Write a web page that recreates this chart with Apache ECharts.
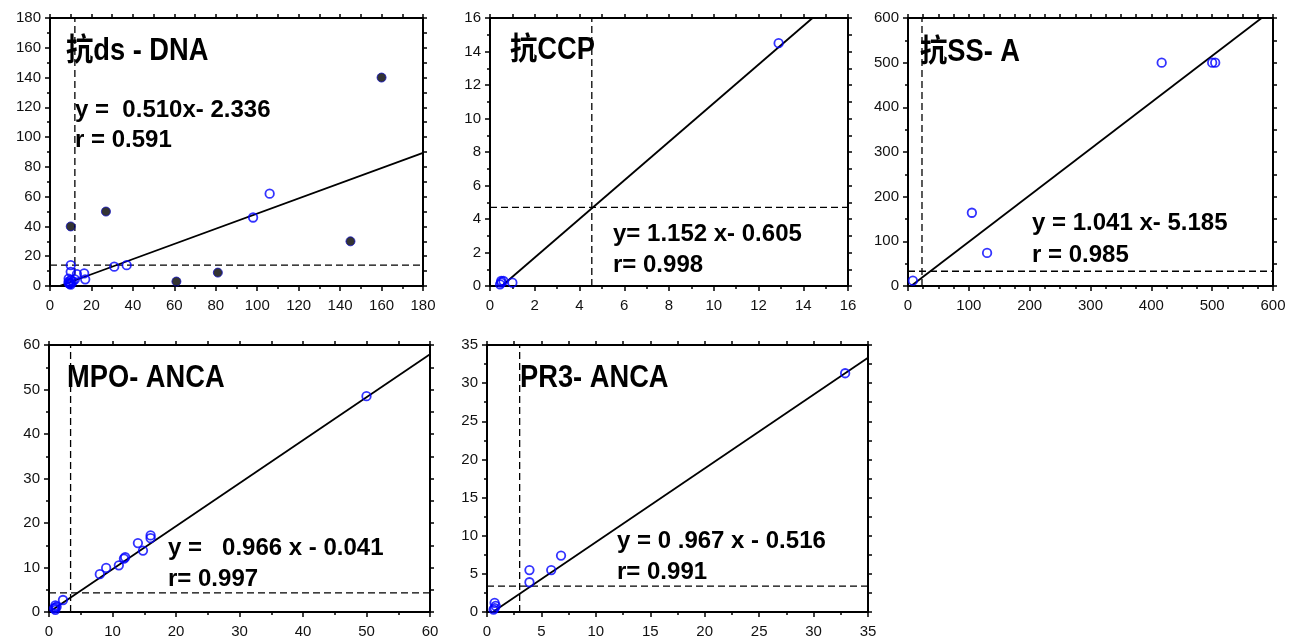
<!DOCTYPE html>
<html>
<head>
<meta charset="utf-8">
<script src="https://cdn.jsdelivr.net/npm/echarts@6/dist/echarts.min.js"></script>
<style>
html,body{margin:0;padding:0;background:#fff;}
#chart{width:1293px;height:641px;}
</style>
</head>
<body>
<div id="chart"></div>
<script>
// ---- data ----
const panelNames = ["抗ds - DNA", "抗CCP", "抗SS- A", "MPO- ANCA", "PR3- ANCA"];
const eqLine1 = ["y =  0.510x- 2.336", "y= 1.152 x- 0.605", "y = 1.041 x- 5.185", "y =   0.966 x - 0.041", "y = 0 .967 x - 0.516"];
const eqLine2 = ["r = 0.591", "r= 0.998", "r = 0.985", "r= 0.997", "r= 0.991"];
const slopes = [0.510, 1.152, 1.041, 0.966, 0.967];
const intercepts = [-2.336, -0.605, -5.185, -0.041, -0.516];
const cutX = [12, 4.55, 23, 3.4, 3.0];
const cutY = [14, 4.7, 33, 4.3, 3.4];
const axisMax = [180, 16, 600, 60, 35];
const axisStep = [20, 2, 100, 10, 5];

const dsOpenX = [10, 10, 13, 16.5, 17, 12, 31, 37, 98, 106, 9, 9, 10, 10, 11, 9, 10, 9.5];
const dsOpenY = [14, 9.5, 8, 8.5, 4.5, 4.5, 13, 14, 46, 62, 2, 3, 2, 4, 3, 5, 1, 1.5];
const dsDarkX = [10, 27, 61, 81, 145, 160];
const dsDarkY = [40, 50, 3, 9, 30, 140];
const ccpX = [0.5, 0.5, 0.6, 0.45, 1.0, 12.9];
const ccpY = [0.3, 0.2, 0.3, 0.1, 0.2, 14.5];
const ssaX = [8, 105, 130, 417, 500, 505];
const ssaY = [12, 164, 74, 500, 500, 500];
const mpoX = [1, 1, 0.8, 1.2, 1, 2.2, 8, 9, 11, 11.8, 12, 14, 14.8, 16, 16, 50];
const mpoY = [1.5, 1, 0.8, 1.2, 0.5, 2.7, 8.5, 9.9, 10.5, 12, 12.3, 15.5, 13.8, 17.2, 16.6, 48.5];
const pr3X = [0.7, 0.7, 0.8, 0.6, 3.9, 3.9, 5.9, 6.8, 32.9];
const pr3Y = [1.2, 0.5, 0.8, 0.3, 5.5, 3.9, 5.5, 7.4, 31.3];

const openX = [dsOpenX, ccpX, ssaX, mpoX, pr3X];
const openY = [dsOpenY, ccpY, ssaY, mpoY, pr3Y];

// ---- layout ----
const grids = [
  {left: 50, top: 18, width: 373, height: 268},
  {left: 490, top: 18, width: 358, height: 268},
  {left: 908, top: 18, width: 365, height: 268},
  {left: 49, top: 345, width: 381, height: 267},
  {left: 487, top: 345, width: 381, height: 267}
];
const xSplit = [2, 2, 4, 2, 2];
const ySplit = [2, 2, 2, 2, 2];
const titlePos = [[66, 51], [510, 50], [920, 52], [67, 378], [520, 378]];
const eqPos = [[75, 110, 140], [613, 234, 265], [1032, 223, 255], [168, 548, 579], [617, 541, 572]];

const pairs = (xs, ys) => xs.map((x, i) => [x, ys[i]]);

const xAxes = [], yAxes = [], series = [], graphics = [];
const lineAx = {show: true, lineStyle: {color: '#000', width: 2}, onZero: false};
const labelStyle = {color: '#111', fontSize: 15, fontFamily: 'Liberation Sans, Arial, sans-serif'};

grids.forEach((g, i) => {
  const mx = axisMax[i], st = axisStep[i];
  xAxes.push({gridIndex: i, type: 'value', min: 0, max: mx, interval: st, position: 'bottom',
    axisLine: lineAx, axisTick: {show: true, length: 5, lineStyle: {color: '#000', width: 1.5}},
    minorTick: {show: true, splitNumber: xSplit[i], length: 3, lineStyle: {color: '#000', width: 1.5}},
    axisLabel: Object.assign({margin: 12, showMaxLabel: true, showMinLabel: true}, labelStyle),
    splitLine: {show: false}, minorSplitLine: {show: false}});
  xAxes.push({gridIndex: i, type: 'value', min: 0, max: mx, interval: st / xSplit[i], position: 'top',
    axisLine: lineAx, axisTick: {show: true, length: 4, lineStyle: {color: '#000', width: 1.5}},
    axisLabel: {show: false}, splitLine: {show: false}});
  yAxes.push({gridIndex: i, type: 'value', min: 0, max: mx, interval: st, position: 'left',
    axisLine: lineAx, axisTick: {show: true, length: 5, lineStyle: {color: '#000', width: 1.5}},
    minorTick: {show: true, splitNumber: ySplit[i], length: 3, lineStyle: {color: '#000', width: 1.5}},
    axisLabel: Object.assign({margin: 9, showMaxLabel: true, showMinLabel: true}, labelStyle),
    splitLine: {show: false}, minorSplitLine: {show: false}});
  yAxes.push({gridIndex: i, type: 'value', min: 0, max: mx, interval: st / ySplit[i], position: 'right',
    axisLine: lineAx, axisTick: {show: true, length: 4, lineStyle: {color: '#000', width: 1.5}},
    axisLabel: {show: false}, splitLine: {show: false}});

  const xi = 2 * i, yi = 2 * i;
  // dashed cut-off lines
  series.push({type: 'line', xAxisIndex: xi, yAxisIndex: yi, data: [[cutX[i], 0], [cutX[i], mx]],
    showSymbol: false, silent: true, z: 2, lineStyle: {color: '#000', width: 1.3, type: [7, 4]}});
  series.push({type: 'line', xAxisIndex: xi, yAxisIndex: yi, data: [[0, cutY[i]], [mx, cutY[i]]],
    showSymbol: false, silent: true, z: 2, lineStyle: {color: '#000', width: 1.3, type: [7, 4]}});
  // regression line
  const a = slopes[i], b = intercepts[i];
  const x1 = Math.max(0, -b / a), x2 = Math.min(mx, (mx - b) / a);
  series.push({type: 'line', xAxisIndex: xi, yAxisIndex: yi, data: [[x1, a * x1 + b], [x2, a * x2 + b]],
    showSymbol: false, silent: true, z: 3, clip: true, lineStyle: {color: '#000', width: 1.8}});
  // open points
  series.push({type: 'scatter', xAxisIndex: xi, yAxisIndex: yi, data: pairs(openX[i], openY[i]),
    symbol: 'circle', symbolSize: 8.5, z: 4, clip: false,
    itemStyle: {color: 'rgba(255,255,255,0)', borderColor: '#0000ff', borderWidth: 1.8}});
  if (i === 0) {
    series.push({type: 'scatter', xAxisIndex: xi, yAxisIndex: yi, data: pairs(dsDarkX, dsDarkY),
      symbol: 'circle', symbolSize: 9, z: 5,
      itemStyle: {color: '#000', borderColor: '#1010c0', borderWidth: 1}});
  }
  // texts
  graphics.push({type: 'text', x: titlePos[i][0], y: titlePos[i][1], scaleX: 0.88,
    style: {text: panelNames[i], font: 'bold 31px "Liberation Sans", "Noto Sans CJK SC", sans-serif',
      fill: '#000', textAlign: 'left', textVerticalAlign: 'middle'}, z: 10});
  graphics.push({type: 'text', x: eqPos[i][0], y: eqPos[i][1],
    style: {text: eqLine1[i], font: 'bold 24px "Liberation Sans", Arial, sans-serif',
      fill: '#000', textAlign: 'left', textVerticalAlign: 'middle'}, z: 10});
  graphics.push({type: 'text', x: eqPos[i][0], y: eqPos[i][2],
    style: {text: eqLine2[i], font: 'bold 24px "Liberation Sans", Arial, sans-serif',
      fill: '#000', textAlign: 'left', textVerticalAlign: 'middle'}, z: 10});
});

const chart = echarts.init(document.getElementById('chart'));
chart.setOption({
  animation: false,
  backgroundColor: '#fff',
  grid: grids.map(g => Object.assign({containLabel: false}, g)),
  xAxis: xAxes,
  yAxis: yAxes,
  series: series,
  graphic: graphics
});
</script>
</body>
</html>
